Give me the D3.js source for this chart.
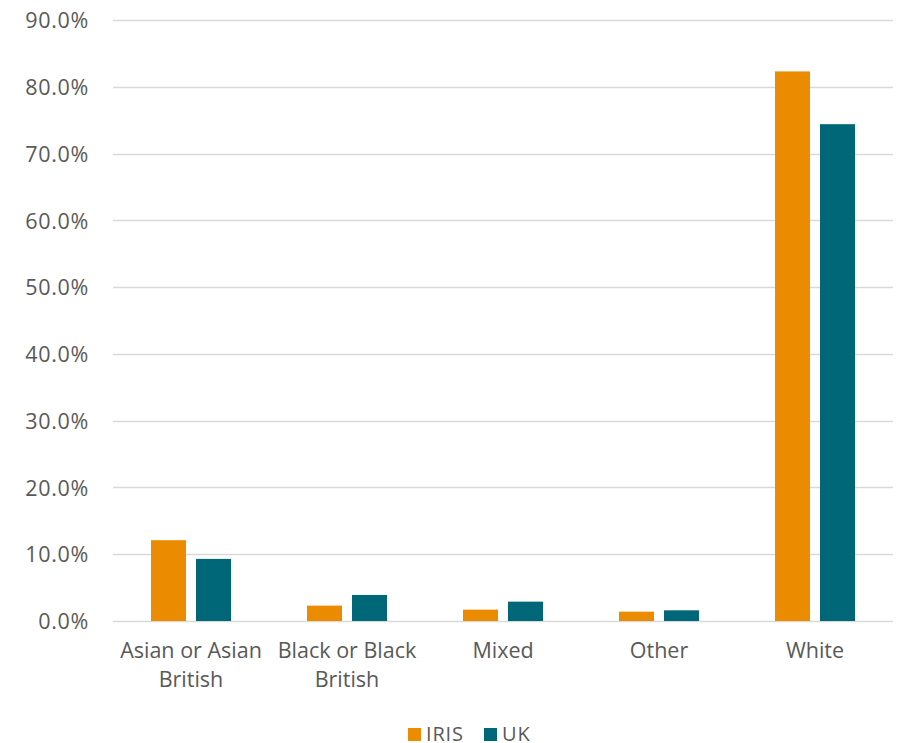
<!DOCTYPE html>
<html>
  <head>
    <meta charset="utf-8">
    <title>IRIS vs UK ethnicity</title>
    <script src="https://cdn.jsdelivr.net/npm/d3@7"></script>
    <style>
      html, body { margin: 0; padding: 0; background: #ffffff; }
      #chart text { font-family: "Open Sans", "Liberation Sans", Arial, sans-serif; fill: #595959; }
    </style>
  </head>
  <body>
    <div id="chart"></div>
    <script>
      // values (percent)
      var categories = ["Asian or Asian British", "Black or Black British", "Mixed", "Other", "White"];
      var series = ["IRIS", "UK"];
      var irisValues = [12.1, 2.3, 1.7, 1.4, 82.3];
      var ukValues = [9.3, 3.9, 2.9, 1.6, 74.4];
      var yTicks = [0, 10, 20, 30, 40, 50, 60, 70, 80, 90];
      var colors = ["#EA8B00", "#006778"];

      var w = 899, h = 743;

      var svg = d3.select("#chart")
                  .append("svg")
                  .attr("width", w)
                  .attr("height", h);

      var y = d3.scaleLinear().domain([0, 90]).range([621, 20]);
      var x = d3.scaleBand().domain(categories).range([113, 893]);
      var xs = d3.scaleBand().domain(series).range([38, 118]).paddingInner(10 / 45);

      // gridlines
      svg.append("g").selectAll("line")
        .data(yTicks)
        .enter()
        .append("line")
        .attr("x1", 113).attr("x2", 893)
        .attr("y1", function (d) { return Math.round(y(d)) + 0.5; })
        .attr("y2", function (d) { return Math.round(y(d)) + 0.5; })
        .attr("stroke", "#d9d9d9")
        .attr("stroke-width", 1.3);

      // y axis labels
      var yAxis = d3.axisLeft(y).tickValues(yTicks).tickSize(0).tickPadding(0)
                    .tickFormat(function (d) { return d.toFixed(1) + "%"; });
      var gy = svg.append("g").attr("transform", "translate(89,0)").call(yAxis);
      gy.select(".domain").remove();
      gy.attr("font-size", null);
      gy.selectAll("text")
        .attr("font-size", 21.5)
        .attr("letter-spacing", 0.7)
        .attr("dy", "0.36em");

      // bars
      var rows = categories.map(function (c, i) {
        return { cat: c, vals: [irisValues[i], ukValues[i]] };
      });

      var groups = svg.selectAll("g.cat")
        .data(rows)
        .enter()
        .append("g")
        .attr("class", "cat")
        .attr("transform", function (d) { return "translate(" + x(d.cat) + ",0)"; });

      groups.selectAll("rect")
        .data(function (d) { return d.vals.map(function (v, j) { return { s: series[j], v: v, j: j }; }); })
        .enter()
        .append("rect")
        .attr("x", function (d) { return xs(d.s); })
        .attr("width", xs.bandwidth())
        .attr("y", function (d) { return y(d.v); })
        .attr("height", function (d) { return y(0) - y(d.v); })
        .attr("fill", function (d) { return colors[d.j]; });

      // category labels, wrapped to two lines like the original
      var wrapAt = { "Asian or Asian British": ["Asian or Asian", "British"],
                     "Black or Black British": ["Black or Black", "British"] };
      groups.append("text")
        .attr("text-anchor", "middle")
        .attr("font-size", 21.5)
        .attr("x", x.bandwidth() / 2)
        .each(function (d) {
          var lines = wrapAt[d.cat] || [d.cat];
          var t = d3.select(this);
          lines.forEach(function (l, k) {
            t.append("tspan")
              .attr("x", x.bandwidth() / 2)
              .attr("y", 658 + k * 29)
              .text(l);
          });
        });

      // legend
      var legend = svg.append("g").attr("transform", "translate(408,728)");
      var legendX = [0, 76];
      series.forEach(function (s, i) {
        legend.append("rect")
          .attr("x", legendX[i]).attr("y", 0)
          .attr("width", 13).attr("height", 13)
          .attr("fill", colors[i]);
        legend.append("text")
          .attr("x", legendX[i] + 18).attr("y", 13)
          .attr("font-size", 20)
          .attr("letter-spacing", 0.8)
          .text(s);
      });
    </script>
  </body>
</html>
